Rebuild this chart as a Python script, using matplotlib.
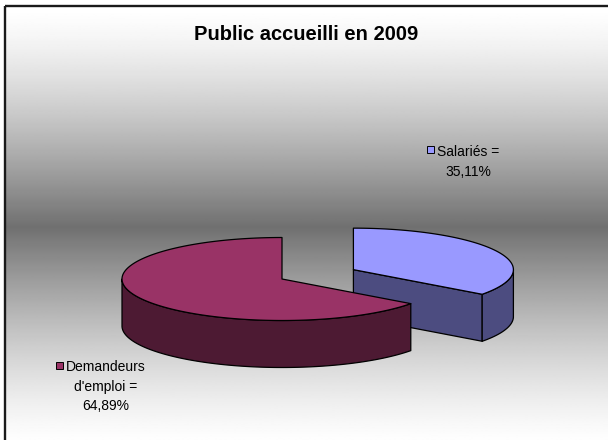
import numpy as np
import matplotlib.pyplot as plt
from matplotlib.patches import Polygon, Rectangle

plt.rcParams['font.family'] = ['Liberation Sans', 'DejaVu Sans']

title = "Public accueilli en 2009"
labels = ["Salariés", "Demandeurs\nd'emploi"]
values = [35.11, 64.89]
top_colors = ["#9999FF", "#993366"]
side_colors = ["#4C4C80", "#4D1A33"]
explode = [0.5, 0.0]

W, H = 608, 440
fig = plt.figure(figsize=(W / 100, H / 100), dpi=100)
ax = fig.add_axes([0, 0, 1, 1])
ax.set_xlim(0, W)
ax.set_ylim(H, 0)
ax.axis('off')

# grey band background, white top and bottom
yy = np.linspace(7, H, 400)
mid, dark = 227, 0.44
shade = 1 - (1 - dark) * np.clip(1 - np.abs(yy - mid) / 220, 0, 1) ** 1.35
ax.imshow(shade[:, None], extent=(6, W, H, 7), cmap='gray', vmin=0, vmax=1,
          aspect='auto', interpolation='bilinear', zorder=0)
ax.add_patch(Rectangle((5, 6), 800, 600, fill=False, ec='#1a1a1a', lw=1.7, zorder=1))

ax.text(306, 40, title, ha='center', va='baseline', fontsize=14.5,
        fontweight='bold', zorder=5)

# 3d pie geometry (pixel units)
cx, cy = 282, 279
a, b, h = 160, 41.5, 47


def rim(c, th, dz=0.0):
    t = np.radians(th)
    return np.column_stack([c[0] + a * np.cos(t), c[1] - b * np.sin(t) + dz])


total = sum(values)
slices = []
start = 90.0
for v, e, tc, sc in zip(values, explode, top_colors, side_colors):
    hi = start
    lo = start - 360 * v / total
    start = lo
    m = np.radians((hi + lo) / 2)
    c = (cx + a * e * np.cos(m), cy - b * e * np.sin(m))
    slices.append((c, lo, hi, tc, sc))

ekw = dict(ec='black', lw=0.9, joinstyle='round', zorder=3)
for c, lo, hi, tc, sc in sorted(slices, key=lambda s: s[0][1]):
    # radial faces facing the viewer
    for th, vis in ((lo, np.cos(np.radians(lo)) > 1e-6), (hi, np.cos(np.radians(hi)) < -1e-6)):
        if vis:
            p = rim(c, [th])[0]
            ax.add_patch(Polygon([c, p, (p[0], p[1] + h), (c[0], c[1] + h)], fc=sc, **ekw))
    # curved front side
    for k in (-1, 0, 1):
        f0, f1 = max(lo, -180 + 360 * k), min(hi, 360 * k)
        if f1 > f0:
            ang = np.linspace(f0, f1, 120)
            pts = np.vstack([rim(c, ang), rim(c, ang[::-1], h)])
            ax.add_patch(Polygon(pts, fc=sc, **ekw))
    # top face
    ang = np.linspace(lo, hi, 300)
    ax.add_patch(Polygon(np.vstack([[c], rim(c, ang)]), fc=tc, **ekw))

# data labels with legend key
label_pos = [(468, 145, 427, 146), (105.5, 360, 56, 362)]
for lab, v, tc, (tx, ty, bx, by) in zip(labels, values, top_colors, label_pos):
    txt = f"{lab} =\n{v:.2f}%".replace('.', ',')
    ax.text(tx, ty, txt, ha='center', va='top', fontsize=10, linespacing=1.5,
            multialignment='center', zorder=5)
    ax.add_patch(Rectangle((bx, by), 7, 7, fc=tc, ec='black', lw=0.7, zorder=5))

fig.savefig('out.png', dpi=100)
